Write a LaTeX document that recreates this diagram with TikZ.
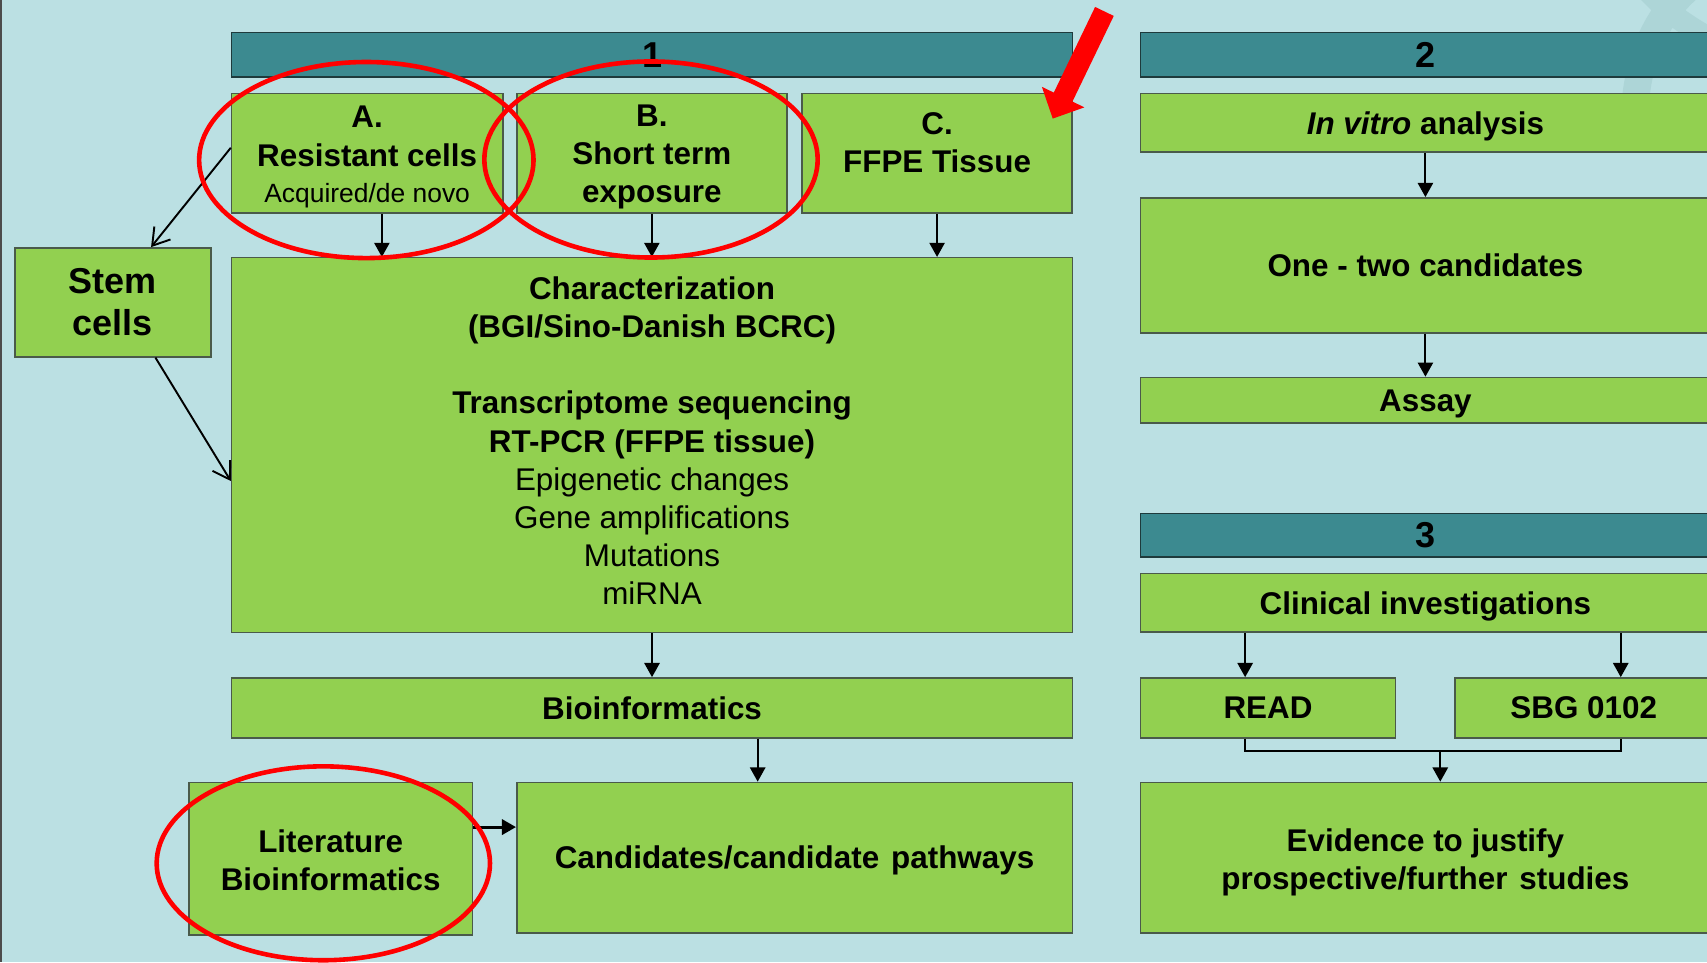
\documentclass[tikz,border=0pt]{standalone}
\usepackage{fontspec}
\setmainfont{Liberation Sans}
\usetikzlibrary{arrows.meta}
\definecolor{slidebg}{HTML}{BBE0E3}
\definecolor{boxgreen}{HTML}{92D050}
\definecolor{boxline}{HTML}{4A5A4A}
\definecolor{headteal}{HTML}{3C8A90}
\definecolor{headline}{HTML}{1E3A3C}
\definecolor{swirl}{HTML}{ADD5D7}
\begin{document}
\begin{tikzpicture}[x=0.01cm, y=-0.01cm,
    stage/.style={draw=headline, fill=headteal, anchor=north west, inner sep=0pt, text depth=0pt, font=\fontsize{9.4}{11}\selectfont\bfseries},
    block/.style={draw=boxline, fill=boxgreen, anchor=north west, inner sep=0pt, align=center, font=\fontsize{8.2}{9.96}\selectfont\bfseries},
    flat/.style={text depth=0pt},
    link/.style={-{Triangle[width=0.14cm, length=0.13cm]}, line width=0.5pt},
    barb/.style={-{Straight Barb[width=0.19cm, length=0.15cm]}, line width=0.5pt},
    halo/.style={draw=red, line width=1.2pt}]
    \useasboundingbox (0,0) rectangle (1568,884);
    \fill[slidebg] (0,0) rectangle (1568,884);
    \clip (0,0) rectangle (1568,884);
    \fill[black!70] (0,0) rectangle (2,884);
    \draw[swirl, line width=0.25cm] (1502,95) .. controls (1506,50) and (1522,15) .. (1550,-10);
    \draw[swirl, line width=0.2cm] (1512,-10) .. controls (1530,10) and (1550,25) .. (1580,40);

    \node[stage, minimum width=7.72cm, minimum height=0.41cm] (stage1) at (212,29) {1};
    \node[stage, minimum width=5.23cm, minimum height=0.41cm] (stage2) at (1047,29) {2};
    \node[stage, minimum width=5.23cm, minimum height=0.40cm] (stage3) at (1047,471) {3};

    \node[block, minimum width=2.49cm, minimum height=1.10cm] (resist) at (212,85) {\rule{0pt}{7.6pt}A.\\Resistant\ cells\\[-0.02cm]{\fontsize{6.9}{8.4}\selectfont\mdseries Acquired/de novo}};
    \node[block, minimum width=2.48cm, minimum height=1.10cm] (short) at (474,85) {\rule{0pt}{7.6pt}B.\\Short term\\exposure};
    \node[block, minimum width=2.48cm, minimum height=1.10cm] (ffpe) at (736,85) {};
    \node[block, draw=none, fill=none, anchor=center] (ffpetext) at ([yshift=0.1cm]ffpe.center) {C.\\FFPE Tissue};
    \node[block, minimum width=1.80cm, minimum height=1.00cm, font=\fontsize{9.4}{11.1}\selectfont\bfseries] (stem) at (13,227) {Stem\\cells};
    \node[block, minimum width=7.72cm, minimum height=3.44cm] (charac) at (212,236) {Characterization\\(BGI/Sino-Danish BCRC)\\[0.35cm]Transcriptome sequencing\\RT-PCR (FFPE tissue)\\\mdseries Epigenetic changes\\\mdseries Gene amplifications\\\mdseries Mutations\\\mdseries miRNA\rule[-2.3pt]{0pt}{0pt}};
    \node[block, flat, minimum width=7.72cm, minimum height=0.55cm] (bioinf) at (212,622) {Bioinformatics};
    \node[block, minimum width=2.60cm, minimum height=1.40cm] (litbio) at (173,718) {\rule{0pt}{7pt}Literature\\Bioinformatics};
    \node[block, flat, minimum width=5.10cm, minimum height=1.38cm] (cands) at (474,718) {Candidates/candidate\hspace{0.03cm} pathways};

    \node[block, flat, minimum width=5.23cm, minimum height=0.54cm] (invitro) at (1047,85) {\textit{In vitro} analysis};
    \node[block, flat, minimum width=5.23cm, minimum height=1.24cm] (onetwo) at (1047,181) {One - two candidates};
    \node[block, flat, minimum width=5.23cm, minimum height=0.42cm] (assay) at (1047,346) {Assay};
    \node[block, flat, minimum width=5.23cm, minimum height=0.54cm] (clinic) at (1047,526) {Clinical investigations};
    \node[block, flat, minimum width=2.34cm, minimum height=0.55cm] (read) at (1047,622) {READ};
    \node[block, flat, minimum width=2.36cm, minimum height=0.55cm] (sbg) at (1336,622) {SBG 0102};
    \node[block, minimum width=5.23cm, minimum height=1.38cm] (evid) at (1047,718) {\rule{0pt}{8.3pt}Evidence to justify\\prospective/further\hspace{0.03cm} studies};

    \draw[link] ([xshift=0.135cm]resist.south) -- ([xshift=0.135cm]resist.south |- charac.north);
    \draw[link] (short.south) -- (short.south |- charac.north);
    \draw[link] (ffpe.south) -- (ffpe.south |- charac.north);
    \draw[link] (charac.south) -- (bioinf.north);
    \draw[link] ([xshift=0.97cm]bioinf.south) -- ([xshift=0.97cm]bioinf.south |- cands.north);
    \draw[link, line width=0.8pt] ([yshift=0.29cm]litbio.east) -- ([yshift=0.29cm]litbio.east -| cands.west);
    \draw[barb] ([yshift=0.05cm]resist.west) -- ([xshift=0.35cm]stem.north);
    \draw[barb] ([xshift=0.39cm]stem.south) -- ([yshift=-0.33cm]charac.west);

    \draw[link] (invitro.south) -- (onetwo.north);
    \draw[link] (onetwo.south) -- (assay.north);
    \draw[link] ([xshift=-0.21cm]read.north |- clinic.south) -- ([xshift=-0.21cm]read.north);
    \draw[link] ([xshift=0.34cm]sbg.north |- clinic.south) -- ([xshift=0.34cm]sbg.north);
    \coordinate (join) at (1323,690);
    \draw[line width=0.5pt] ([xshift=-0.21cm]read.south) |- (join) -| ([xshift=0.34cm]sbg.south);
    \draw[link] (join) -- (join |- evid.north);

    \draw[halo] (336.5,147) ellipse [x radius=1.535cm, y radius=0.90cm];
    \draw[halo] (598,146.5) ellipse [x radius=1.53cm, y radius=0.90cm];
    \draw[halo] (297,793) ellipse [x radius=1.53cm, y radius=0.89cm];

    \coordinate (pointertail) at (1014.5,10.5);
    \coordinate (pointertip) at (967,109);
    \draw[red, line width=0.19cm, -{Triangle[width=0.42cm, length=0.22cm]}] (pointertail) -- (pointertip);
\end{tikzpicture}
\end{document}
